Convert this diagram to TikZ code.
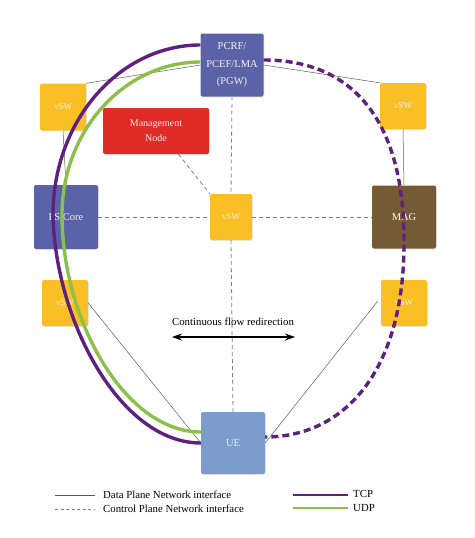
\documentclass[tikz,border=0pt]{standalone}
\usepackage{fontspec}
\setmainfont{Liberation Serif}
\usetikzlibrary{arrows.meta,shadows,calc}
\definecolor{pgwblue}{HTML}{5B63A8}
\definecolor{ueblue}{HTML}{7B9CCD}
\definecolor{vswyellow}{HTML}{F9BF24}
\definecolor{magbrown}{HTML}{745B36}
\definecolor{mgmtred}{HTML}{E02B27}
\definecolor{tcppurple}{HTML}{5E2180}
\definecolor{udpgreen}{HTML}{8CC04B}
\definecolor{lnk}{HTML}{5A5A5A}
\definecolor{ctl}{HTML}{808080}
\tikzset{
  box/.style={rectangle, rounded corners=2pt, inner sep=0pt, align=center,
    text=white!94!black, font=\fontsize{10.5}{17.5}\selectfont,
    drop shadow={opacity=0.18, shadow xshift=0.8pt, shadow yshift=-0.8pt}},
  bigbox/.style={box, minimum width=63pt, minimum height=63pt},
  vswbox/.style={box, fill=vswyellow, minimum width=46pt, minimum height=46pt, font=\fontsize{9}{10}\selectfont},
  dataline/.style={lnk, line width=0.5pt},
  ctrlline/.style={ctl, line width=0.8pt, dash pattern=on 4pt off 3pt},
  tcpline/.style={tcppurple, line width=3.4pt},
  udpline/.style={udpgreen, line width=3.4pt},
  tcpdash/.style={tcppurple, line width=3.4pt, dash pattern=on 7pt off 4pt},
  lbl/.style={font=\fontsize{10.8}{12}\selectfont, text=black, inner sep=0pt}
}
\begin{document}
\begin{tikzpicture}[x=1pt,y=-1pt]
\useasboundingbox (0,0) rectangle (474,538);
% nodes
\node[bigbox, fill=pgwblue] (pcrf) at (232,65) {PCRF/\\PCEF/LMA\\(PGW)};
\node[bigbox, fill=pgwblue, minimum width=64pt, minimum height=64pt] (pscore) at (66,217) {PS Core};
\node[bigbox, fill=magbrown, text=white!88!yellow, minimum width=64pt] (mag) at (404,217) {MAG};
\node[bigbox, fill=ueblue, minimum width=64pt, minimum height=62pt] (ue) at (233,443) {UE};
\node[box, fill=mgmtred, minimum width=106pt, minimum height=46pt, font=\fontsize{10}{15}\selectfont] (mgmt) at (156,131) {Management\\Node};
\node[vswbox, minimum height=47pt] (vswtl) at (63,107) {vSW};
\node[vswbox] (vswtr) at (403,106) {vSW};
\node[vswbox] (vswbl) at (65,303) {vSW};
\node[vswbox] (vswbr) at (404,303) {vSW};
\node[vswbox, minimum width=42pt] (vswc) at (231,217) {vSW};
% data plane links
\draw[dataline] (vswtl.north east) -- (pcrf.west);
\draw[dataline] (pcrf.east) -- (vswtr.north west);
\draw[dataline] (vswtl.south) -- (pscore.north);
\draw[dataline] (vswtr.south) -- (mag.north);
\draw[dataline] (vswbl.east) -- (ue.west);
\draw[dataline] ($(vswbr.west)+(-3,-2)$) -- (ue.east);
% control plane links
\draw[ctrlline] (pcrf.south) -- (vswc.north);
\draw[ctrlline] (vswc.south) -- (ue.north);
\draw[ctrlline] (pscore.east) -- (vswc.west);
\draw[ctrlline] (vswc.east) -- (mag.west);
\draw[ctrlline] (mgmt.-46) -- (vswc.north west);
% flow redirection
\node[lbl] (cfr) at (233,322) {Continuous flow redirection};
\coordinate (al) at (172,337);
\coordinate (ar) at (295,337);
\draw[black, line width=1.3pt, {Stealth[length=10pt,width=7pt]}-{Stealth[length=10pt,width=7pt]}] (al) -- (ar);
% flows
\coordinate (tcpstart) at ($(pcrf.west)+(0,-20)$);
\coordinate (udpstart) at ($(pcrf.west)+(0,-3)$);
\coordinate (tcpend) at ($(ue.west)+(0,0)$);
\coordinate (udpend) at ($(ue.west)+(0,-11)$);
\coordinate (dstart) at ($(pcrf.east)+(0,-5)$);
\coordinate (dend) at ($(ue.east)+(0,-6)$);
\draw[udpline] (udpstart) .. controls (125,62) and (62,130) .. (62,215)
  .. controls (62,320) and (125,432) .. (udpend);
\draw[tcpline] (tcpstart) .. controls (120,45) and (53,120) .. (53,215)
  .. controls (55,320) and (120,443) .. (tcpend);
\draw[tcpdash] (dstart) .. controls (360,60) and (404,130) .. (404,240)
  .. controls (405,370) and (345,437) .. (dend);
% legend
\coordinate (l1a) at (55,495); \coordinate (l1b) at (95,495);
\coordinate (l2a) at (55,509); \coordinate (l2b) at (95,509);
\coordinate (l3a) at (293,495); \coordinate (l3b) at (348,495);
\coordinate (l4a) at (293,508); \coordinate (l4b) at (348,508);
\draw[dataline] (l1a) -- (l1b);
\draw[ctrlline, line width=0.6pt, dash pattern=on 3pt off 2.5pt] (l2a) -- (l2b);
\draw[tcppurple, line width=2.6pt] (l3a) -- (l3b);
\draw[udpgreen, line width=2.6pt] (l4a) -- (l4b);
\node[lbl, anchor=west] (t1) at (103,495) {Data Plane Network interface};
\node[lbl, anchor=west] (t2) at (103,509) {Control Plane Network interface};
\node[lbl, anchor=west] (t3) at (353,494) {TCP};
\node[lbl, anchor=west] (t4) at (353,508) {UDP};
\end{tikzpicture}
\end{document}
